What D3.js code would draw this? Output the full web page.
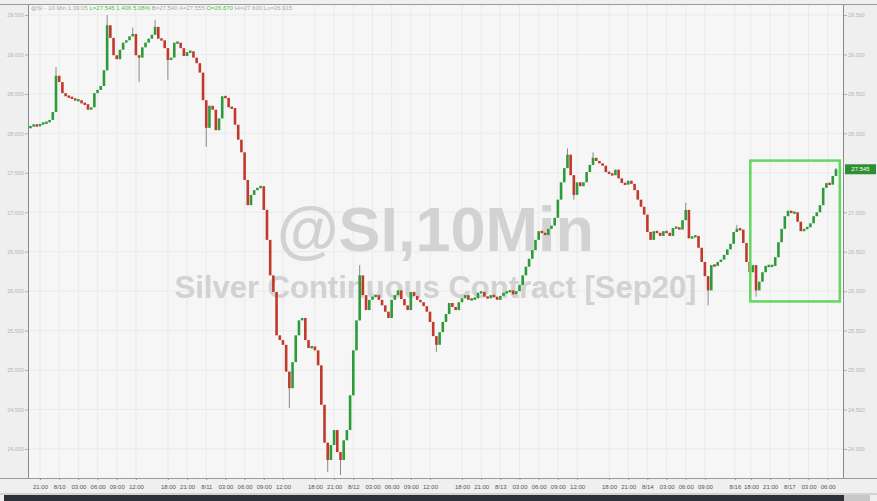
<!DOCTYPE html>
<html>
<head>
<meta charset="utf-8">
<script src="https://cdn.jsdelivr.net/npm/d3@7"></script>
<style>
  html, body { margin: 0; padding: 0; background: #efefef; }
  svg { display: block; }
  text { font-family: "Liberation Sans", Arial, sans-serif; }
</style>
</head>
<body>
<svg id="chart" width="877" height="501"></svg>
<script>
// ---- DATA ----
// 30-minute samples; hour index 0 = 8/9 21:00 (trading hours only)
const startHour = -1.5;
const stepHours = 0.5;
const firstOpen = 28.07;
const closes = [
  28.09, 28.11, 28.09, 28.12, 28.13, 28.14, 28.17, 28.27, 28.73, 28.65,
  28.51, 28.47, 28.46, 28.44, 28.42, 28.42, 28.38, 28.37, 28.30, 28.33,
  28.51, 28.55, 28.60, 28.80, 29.37, 29.21, 28.99, 28.94, 29.06, 29.15,
  29.18, 29.23, 29.26, 28.99, 28.96, 29.09, 29.15, 29.20, 29.25, 29.35,
  29.20, 29.18, 29.08, 28.93, 28.96, 29.15, 29.15, 29.08, 28.98, 29.03,
  29.04, 28.96, 28.89, 28.77, 28.42, 28.07, 28.35, 28.30, 28.04, 28.19,
  28.47, 28.45, 28.33, 28.32, 28.11, 27.92, 27.76, 27.41, 27.09, 27.22,
  27.28, 27.31, 27.33, 27.03, 26.65, 26.20, 25.99, 25.44, 25.38, 25.32,
  24.98, 24.77, 25.10, 25.44, 25.63, 25.66, 25.38, 25.28, 25.30, 25.25,
  25.06, 24.56, 24.08, 23.86, 24.05, 24.24, 23.96, 23.86, 24.11, 24.24,
  24.68, 25.25, 25.63, 26.20, 25.95, 25.76, 25.89, 25.93, 25.95, 25.89,
  25.82, 25.74, 25.66, 25.89, 25.95, 26.01, 25.90, 25.82, 25.76, 25.99,
  25.94, 25.89, 25.86, 25.81, 25.74, 25.61, 25.43, 25.32, 25.48, 25.61,
  25.71, 25.85, 25.80, 25.76, 25.86, 25.91, 25.95, 25.89, 25.90, 25.91,
  25.98, 25.99, 25.93, 25.91, 25.95, 25.93, 25.89, 25.94, 25.98, 25.99,
  26.01, 25.96, 26.00, 26.08, 26.20, 26.31, 26.41, 26.52, 26.65, 26.76,
  26.74, 26.71, 26.79, 26.83, 26.93, 27.16, 27.38, 27.56, 27.73, 27.47,
  27.22, 27.38, 27.33, 27.38, 27.51, 27.60, 27.69, 27.65, 27.62, 27.59,
  27.51, 27.49, 27.47, 27.54, 27.43, 27.37, 27.35, 27.40, 27.36, 27.28,
  27.16, 27.07, 26.97, 26.75, 26.65, 26.76, 26.74, 26.70, 26.76, 26.74,
  26.70, 26.80, 26.81, 26.78, 26.90, 27.03, 26.67, 26.69, 26.70, 26.55,
  26.37, 26.19, 26.01, 26.33, 26.32, 26.37, 26.40, 26.46, 26.53, 26.60,
  26.75, 26.79, 26.78, 26.61, 26.37, 26.24, 26.33, 26.01, 26.12, 26.24,
  26.32, 26.32, 26.32, 26.43, 26.62, 26.79, 26.95, 27.02, 26.99, 27.00,
  26.88, 26.76, 26.79, 26.81, 26.86, 26.95, 27.00, 27.09, 27.31, 27.37,
  27.35, 27.46, 27.545
];
// notable wick extremes: [sample index, price]
const wickHighs = [[8, 28.84], [24, 29.50], [32, 29.34], [39, 29.44], [103, 26.33],
  [168, 27.81], [176, 27.76], [205, 27.12], [221, 26.84], [252, 27.56]];
const wickLows = [[34, 28.65], [43, 28.68], [55, 27.83], [81, 24.52], [93, 23.71],
  [97, 23.67], [127, 25.23], [170, 27.16], [212, 25.82], [227, 25.93]];

const yTicks = [29.5, 29.0, 28.5, 28.0, 27.5, 27.0, 26.5, 26.0, 25.5, 25.0, 24.5, 24.0];
// right-axis labels (27.500 is hidden behind the last-price badge)
const yTicksRight = [29.5, 29.0, 28.5, 28.0, 27.0, 26.5, 26.0, 25.5, 25.0, 24.5, 24.0];
const xTickHours = [0, 3, 6, 9, 12, 15, 20, 23, 26, 29, 32, 35, 38, 43, 46, 49, 52, 55, 58, 61,
  66, 69, 72, 75, 78, 81, 84, 89, 92, 95, 98, 101, 104, 108.7, 111.2, 114.2, 117.2, 120.2, 123.2];
const xTickLabels = ["21:00", "8/10", "03:00", "06:00", "09:00", "12:00", "18:00", "21:00", "8/11",
  "03:00", "06:00", "09:00", "12:00", "18:00", "21:00", "8/12", "03:00", "06:00", "09:00", "12:00",
  "18:00", "21:00", "8/13", "03:00", "06:00", "09:00", "12:00", "18:00", "21:00", "8/14", "03:00",
  "06:00", "09:00", "8/16", "18:00", "21:00", "8/17", "03:00", "06:00"];
const lastPrice = 27.545;
const boxRange = {h0: 111.1, h1: 125.1, p0: 27.655, p1: 25.87};
const watermark1 = "@SI,10Min";
const watermark2 = "Silver Continuous Contract [Sep20]";
const headerParts = [
  ["@SI - 10 Min  1:39:05  ", "#a8a8a8"],
  ["L=27.545  1.406  5.08%  ", "#45c545"],
  ["B=27.540  A=27.555  ", "#a8a8a8"],
  ["O=26.670  ", "#45c545"],
  ["Hi=27.600  Lo=26.915", "#a8a8a8"]
];

// ---- CHART ----
const svg = d3.select("#chart");
const W = 877, H = 501;
const pL = 28, pR = 843, pT = 5, pB = 478;

const x = d3.scaleLinear().domain([-1.88, 125.6]).range([pL, pR]);
const y = d3.scaleLinear().domain([23.632, 29.627]).range([pB, pT]);

svg.append("rect").attr("width", W).attr("height", H).attr("fill", "#efefef");
svg.append("rect").attr("x", pL).attr("y", pT).attr("width", pR - pL)
  .attr("height", pB - pT).attr("fill", "#f6f6f6");

// grid
const grid = svg.append("g");
grid.selectAll(".vg").data(xTickHours).join("line")
  .attr("x1", d => x(d)).attr("x2", d => x(d)).attr("y1", pT).attr("y2", pB)
  .attr("stroke", "#eaeaea").attr("stroke-width", 1);
grid.selectAll(".hg").data(yTicks).join("line")
  .attr("x1", pL).attr("x2", pR).attr("y1", d => y(d)).attr("y2", d => y(d))
  .attr("stroke", "#eaeaea").attr("stroke-width", 1);

// watermark
svg.append("text").attr("x", (pL + pR) / 2).attr("y", 251)
  .attr("text-anchor", "middle").attr("font-size", 63).attr("font-weight", "bold")
  .attr("fill", "#d2d2d2").text(watermark1);
svg.append("text").attr("x", (pL + pR) / 2).attr("y", 298)
  .attr("text-anchor", "middle").attr("font-size", 31).attr("font-weight", "bold")
  .attr("fill", "#d2d2d2").text(watermark2);

// candles
const candles = closes.map((c, i) => {
  const o = i === 0 ? firstOpen : closes[i - 1];
  return {h: startHour + stepHours * i, o, c, hi: Math.max(o, c), lo: Math.min(o, c)};
});
wickHighs.forEach(([i, v]) => { candles[i].hi = Math.max(candles[i].hi, v); });
wickLows.forEach(([i, v]) => { candles[i].lo = Math.min(candles[i].lo, v); });

const up = "#2f9a3a", down = "#c0392b";
const cg = svg.append("g");
cg.selectAll(".wick").data(candles.filter(d => d.hi > Math.max(d.o, d.c) || d.lo < Math.min(d.o, d.c))).join("line")
  .attr("x1", d => x(d.h)).attr("x2", d => x(d.h))
  .attr("y1", d => y(d.hi)).attr("y2", d => y(d.lo))
  .attr("stroke", "#8a8a8a").attr("stroke-width", 1);
cg.selectAll(".body").data(candles).join("rect")
  .attr("x", d => x(d.h) - 1.3).attr("width", 2.6)
  .attr("y", d => Math.min(y(Math.max(d.o, d.c)), (y(d.o) + y(d.c)) / 2 - 1.2))
  .attr("height", d => Math.max(2.4, Math.abs(y(d.o) - y(d.c))))
  .attr("fill", d => d.c >= d.o ? up : down);

// highlight box
svg.append("rect")
  .attr("x", x(boxRange.h0)).attr("y", y(boxRange.p0))
  .attr("width", x(boxRange.h1) - x(boxRange.h0))
  .attr("height", y(boxRange.p1) - y(boxRange.p0))
  .attr("fill", "none").attr("stroke", "#62d862").attr("stroke-width", 2.5);

// axes lines
svg.append("line").attr("x1", 0).attr("x2", W).attr("y1", pT - 0.5).attr("y2", pT - 0.5)
  .attr("stroke", "#9a9a9a");
svg.append("line").attr("x1", pL + 0.5).attr("x2", pL + 0.5).attr("y1", pT).attr("y2", pB)
  .attr("stroke", "#8a8a8a");
svg.append("line").attr("x1", pR + 0.5).attr("x2", pR + 0.5).attr("y1", pT).attr("y2", pB)
  .attr("stroke", "#8a8a8a");
svg.append("line").attr("x1", 0).attr("x2", W).attr("y1", pB + 0.5).attr("y2", pB + 0.5)
  .attr("stroke", "#9a9a9a");

// y axes
const fmt = d3.format(".3f");
const yl = d3.axisLeft(y).tickValues(yTicks).tickFormat(fmt).tickSize(3).tickPadding(1);
const yr = d3.axisRight(y).tickValues(yTicksRight).tickFormat(fmt).tickSize(3).tickPadding(1);
const gl = svg.append("g").attr("transform", `translate(${pL},0)`).call(yl);
const gr = svg.append("g").attr("transform", `translate(${pR + 1},0)`).call(yr);
[gl, gr].forEach(g => {
  g.select(".domain").remove();
  g.selectAll(".tick line").attr("stroke", "#b0b0b0");
  g.selectAll(".tick text").attr("fill", "#b4b4b4").attr("font-size", 5.5)
    .attr("font-family", "Liberation Sans, Arial, sans-serif");
});

// x axis
const xa = d3.axisBottom(x).tickValues(xTickHours)
  .tickFormat((d, i) => xTickLabels[i]).tickSize(2).tickPadding(5);
const gx = svg.append("g").attr("transform", `translate(0,${pB})`).call(xa);
gx.select(".domain").remove();
gx.selectAll(".tick line").attr("stroke", "#999");
gx.selectAll(".tick text").attr("fill", "#555").attr("font-size", 6)
  .attr("font-family", "Liberation Sans, Arial, sans-serif");

// last price badge
const by = y(lastPrice);
svg.append("rect").attr("x", pR + 2).attr("y", by - 5).attr("width", 31).attr("height", 10)
  .attr("fill", "#2e8f32");
svg.append("text").attr("x", pR + 17.5).attr("y", by + 2.2).attr("text-anchor", "middle")
  .attr("font-size", 6).attr("fill", "#ffffff").text(fmt(lastPrice));

// header
const ht = svg.append("text").attr("x", 31).attr("y", 10).attr("font-size", 6);
headerParts.forEach(([t, c]) => ht.append("tspan").attr("fill", c).text(t));

// bottom bar
svg.append("line").attr("x1", 0).attr("x2", W).attr("y1", 494).attr("y2", 494).attr("stroke", "#b5b5b5");
svg.append("rect").attr("x", 4).attr("y", 495).attr("width", 840).attr("height", 6).attr("fill", "#2c3038");
svg.append("rect").attr("x", 844).attr("y", 495).attr("width", 26).attr("height", 6).attr("fill", "#c8c8c8");
</script>
</body>
</html>
